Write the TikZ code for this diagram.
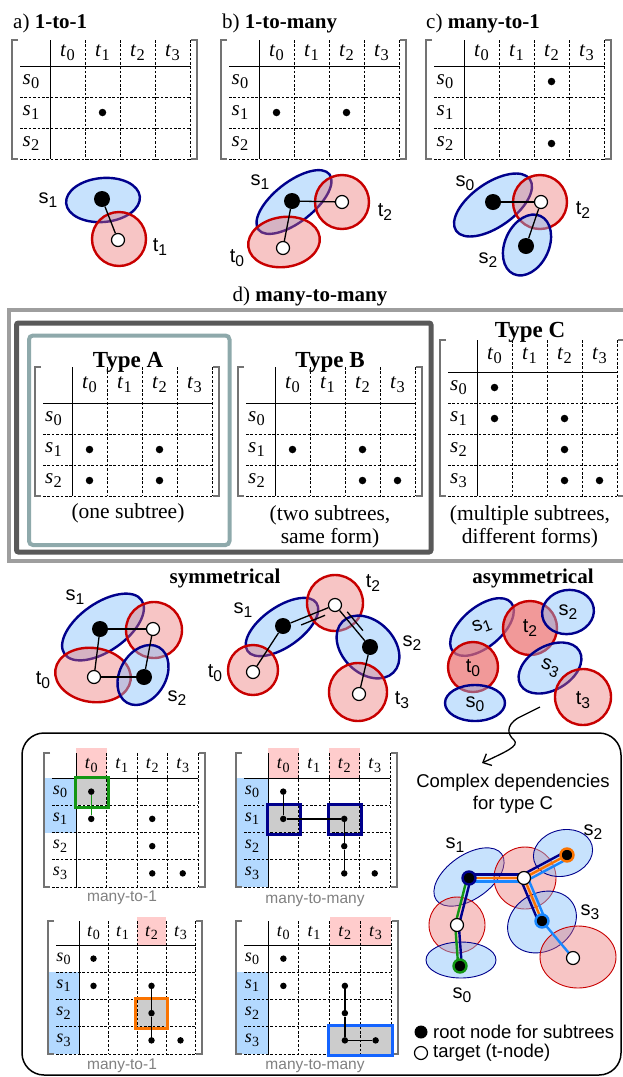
\documentclass[tikz,border=0pt]{standalone}
\usepackage{fontspec}
\setmainfont{Liberation Serif}
\setsansfont{Liberation Sans}
\usepackage{graphicx}
\usetikzlibrary{arrows.meta}
\pgfdeclarelayer{shp}
\pgfdeclarelayer{edg}
\pgfsetlayers{shp,edg,main}

\definecolor{navyc}{RGB}{0,0,140}
\definecolor{redc}{RGB}{200,0,0}
\definecolor{bfill}{RGB}{130,190,250}
\definecolor{rfill}{RGB}{235,110,110}
\definecolor{orangec}{RGB}{250,115,0}
\definecolor{lbluec}{RGB}{25,135,255}
\definecolor{greenc}{RGB}{20,150,20}
\definecolor{boxblue}{RGB}{20,100,255}
\definecolor{pinkh}{RGB}{255,204,204}
\definecolor{blueh}{RGB}{179,217,255}
\definecolor{tealc}{RGB}{142,169,171}
\definecolor{cellg}{RGB}{204,204,204}

\newcommand\subx[1]{\raisebox{-0.4ex}{\scalebox{0.78}{#1}}}
\newcommand\mvar[2]{\textit{#1}\kern0.4pt\subx{#2}}
\newcommand\gvar[2]{#1\subx{#2}}

\tikzset{
 brk/.style={draw=black!55, line width=1.3pt},
 dashl/.style={draw=black, line width=0.7pt, dash pattern=on 2.6pt off 1.8pt},
 solidl/.style={draw=black, line width=0.9pt},
 tlab/.style={inner sep=0pt, font=\fontsize{21}{21}\selectfont},
 blab/.style={inner sep=0pt, font=\fontsize{18}{18}\selectfont},
 mdot/.style={circle, fill=black, inner sep=0pt, minimum size=7.5pt},
 bdot/.style={circle, fill=black, inner sep=0pt, minimum size=6.5pt},
 sell/.style={draw=navyc, line width=2.4pt, fill=bfill, fill opacity=0.45},
 tell/.style={draw=redc, line width=2.4pt, fill=rfill, fill opacity=0.4},
 telld/.style={draw=redc, line width=2.4pt, fill=rfill, fill opacity=0.7},
 sellt/.style={draw=navyc, line width=0.9pt, fill=bfill, fill opacity=0.45},
 tellt/.style={draw=redc, line width=0.9pt, fill=rfill, fill opacity=0.4},
 rdot/.style={circle, fill=black, inner sep=0pt, minimum size=16pt},
 wdot/.style={circle, draw=black, fill=white, line width=1.2pt, inner sep=0pt, minimum size=13pt},
 conn/.style={draw=black, line width=1.3pt},
 mconn/.style={draw=black, line width=1.4pt},
 glab/.style={font=\sffamily\fontsize{20}{20}\selectfont, inner sep=0pt},
 ttl/.style={font=\fontsize{21}{21}\selectfont, inner sep=0pt},
 typ/.style={font=\bfseries\fontsize{23}{23}\selectfont, inner sep=0pt},
 capt/.style={font=\fontsize{21.5}{23.5}\selectfont, align=center, inner sep=0pt},
 gcap/.style={font=\sffamily\fontsize{15.5}{15.5}\selectfont, text=black!50, inner sep=0pt},
 cl/.style={line width=2.4pt},
 hbox/.style={line width=3pt},
}

% #1 prefix, #2 x0, #3 y0, #4 xv, #5 yh, #6 cw, #7 rh, #8 rows, #9 label style
\newcommand\mgrid[9]{%
  \pgfmathsetmacro\gxe{#4+4*#6}%
  \pgfmathsetmacro\gyb{#5+#8*#7}%
  \pgfmathsetmacro\gxr{\gxe+7}%
  \pgfmathtruncatemacro\gnm{#8-1}%
  \draw[brk] (#2+6,#3) -- (#2,#3) -- (#2,\gyb) -- (#2+6,\gyb);
  \draw[brk] (\gxr-6,#3) -- (\gxr,#3) -- (\gxr,\gyb) -- (\gxr-6,\gyb);
  \foreach \k in {1,...,4} \draw[dashl] ({#4+\k*#6},#3) -- ({#4+\k*#6},\gyb);
  \foreach \k in {1,...,#8} \draw[dashl] (#2+8,{#5+\k*#7}) -- (\gxe,{#5+\k*#7});
  \draw[solidl] (#4,#3) -- (#4,\gyb);
  \draw[solidl] (#2+8,#5) -- (\gxe,#5);
  \foreach \k in {0,...,3} \node[#9] (#1t\k) at ({#4+(\k+.5)*#6},{(#3+#5)/2}) {\mvar{t}{\k}};
  \foreach \k in {0,...,\gnm} \node[#9] (#1s\k) at ({(#2+#4)/2},{#5+(\k+.5)*#7}) {\mvar{s}{\k}};
}
\newcommand\ellp[6]{\path[#1, rotate around={#6:(#2,#3)}] (#2,#3) ellipse (#4pt and #5pt);}

\begin{document}
\begin{tikzpicture}[x=1pt,y=-1pt]
\useasboundingbox (0,0) rectangle (623,1077);

% ---------- titles ----------
\node[ttl, anchor=west] (ta) at (13,23) {a) \textbf{1-to-1}};
\node[ttl, anchor=west] (tb) at (222,23) {b) \textbf{1-to-many}};
\node[ttl, anchor=west] (tc) at (426,23) {c) \textbf{many-to-1}};

% ---------- top matrices ----------
\mgrid{A1}{12}{40}{50}{66}{35}{31}{3}{tlab}
\node[mdot] (A1d11) at (A1t1 |- A1s1) {};
\mgrid{B1}{221}{40}{259}{66}{35}{31}{3}{tlab}
\node[mdot] (B1d10) at (B1t0 |- B1s1) {};
\node[mdot] (B1d12) at (B1t2 |- B1s1) {};
\mgrid{C1}{426}{40}{464}{66}{35}{31}{3}{tlab}
\node[mdot] (C1d02) at (C1t2 |- C1s0) {};
\node[mdot] (C1d22) at (C1t2 |- C1s2) {};

% ---------- top graphs ----------
\begin{pgfonlayer}{shp}
\ellp{sell}{103}{200}{37}{22}{5}
\ellp{tell}{119}{239}{27}{27}{0}
\ellp{sell}{294}{202}{45}{20}{38}
\ellp{tell}{342}{202}{27}{27}{0}
\ellp{tell}{284}{242}{36}{25}{8}
\ellp{sell}{493}{205}{45}{22}{35}
\ellp{tell}{540}{202}{27}{27}{0}
\ellp{sell}{527}{245}{32}{22}{65}
\end{pgfonlayer}
\node[rdot] (aS1) at (102,199) {};
\node[wdot] (aT1) at (118,240) {};
\draw[conn] (aS1) -- (aT1);
\node[glab] (aLs1) at (48,200) {\gvar{s}{1}};
\node[glab] (aLt1) at (160,247) {\gvar{t}{1}};

\node[rdot] (bS1) at (292,201) {};
\node[wdot] (bT2) at (342,202) {};
\node[wdot] (bT0) at (283,248) {};
\draw[conn] (bS1) -- (bT2);
\draw[conn] (bS1) -- (bT0);
\node[glab] (bLs1) at (260,182) {\gvar{s}{1}};
\node[glab] (bLt2) at (385,212) {\gvar{t}{2}};
\node[glab] (bLt0) at (237,258) {\gvar{t}{0}};

\node[rdot] (cS0) at (493,202) {};
\node[wdot] (cT2) at (541,202) {};
\node[rdot] (cS2) at (526,246) {};
\draw[conn] (cS0) -- (cT2);
\draw[conn] (cS2) -- (cT2);
\node[glab] (cLs0) at (465,183) {\gvar{s}{0}};
\node[glab] (cLt2) at (583,210) {\gvar{t}{2}};
\node[glab] (cLs2) at (488,260) {\gvar{s}{2}};

% ---------- middle section ----------
\node[ttl] (td) at (310,296) {d) \textbf{many-to-many}};
\draw[line width=4pt, draw=black!38] (9,310) rectangle (627,561);
\draw[line width=5pt, draw=black!65, rounded corners=2pt] (16.5,323) rectangle (431,552);
\draw[line width=4pt, draw=tealc, rounded corners=4pt] (29,335.5) rectangle (229.5,545);

\node[typ, anchor=base] (tA) at (128,367) {Type A};
\node[typ, anchor=base] (tB) at (330,367) {Type B};
\node[typ, anchor=base] (tC) at (530,337) {Type C};

\mgrid{MA}{35}{367}{72}{403}{35}{31}{3}{tlab}
\node[mdot] (MAd10) at (MAt0 |- MAs1) {};
\node[mdot] (MAd12) at (MAt2 |- MAs1) {};
\node[mdot] (MAd20) at (MAt0 |- MAs2) {};
\node[mdot] (MAd22) at (MAt2 |- MAs2) {};
\mgrid{MB}{238}{367}{275}{403}{35}{31}{3}{tlab}
\node[mdot] (MBd10) at (MBt0 |- MBs1) {};
\node[mdot] (MBd12) at (MBt2 |- MBs1) {};
\node[mdot] (MBd22) at (MBt2 |- MBs2) {};
\node[mdot] (MBd23) at (MBt3 |- MBs2) {};
\mgrid{MC}{440}{340}{477}{372}{35}{31}{4}{tlab}
\node[mdot] (MCd00) at (MCt0 |- MCs0) {};
\node[mdot] (MCd10) at (MCt0 |- MCs1) {};
\node[mdot] (MCd12) at (MCt2 |- MCs1) {};
\node[mdot] (MCd22) at (MCt2 |- MCs2) {};
\node[mdot] (MCd32) at (MCt2 |- MCs3) {};
\node[mdot] (MCd33) at (MCt3 |- MCs3) {};

\node[capt] (capA) at (128,513) {(one subtree)};
\node[capt] (capB) at (330,527) {(two subtrees,\\same form)};
\node[capt] (capC) at (530,527) {(multiple subtrees,\\different forms)};

% ---------- symmetrical / asymmetrical ----------
\node[ttl] (sym) at (225,578) {\textbf{symmetrical}};
\node[ttl] (asym) at (533,578) {\textbf{asymmetrical}};

\begin{pgfonlayer}{shp}
% sym 1
\ellp{sell}{103}{627}{47}{24}{35}
\ellp{tell}{154}{630}{28}{28}{0}
\ellp{tell}{93}{675}{38}{27}{-8}
\ellp{sell}{143}{675}{32}{23}{60}
% sym 2
\ellp{sell}{282}{627}{42}{20}{35}
\ellp{tell}{253}{670}{25}{25}{0}
\ellp{tell}{335}{603}{28}{28}{0}
\ellp{sell}{368}{647}{36}{26}{-45}
\ellp{tell}{358}{692}{29}{29}{0}
% asym
\ellp{sell}{482}{627}{38}{20}{40}
\ellp{telld}{530}{628}{27}{27}{0}
\ellp{telld}{473}{667}{25}{25}{0}
\ellp{sell}{475}{703}{30}{18}{0}
\ellp{sell}{568}{612}{26}{22}{10}
\ellp{sell}{550}{668}{34}{22}{30}
\ellp{tell}{583}{697}{28}{28}{0}
\end{pgfonlayer}

\node[rdot] (pS1) at (100,629) {};
\node[wdot] (pT2) at (153,629) {};
\node[wdot] (pT0) at (94,677) {};
\node[rdot] (pS2) at (144,677) {};
\draw[conn] (pS1) -- (pT2);
\draw[conn] (pS1) -- (pT0);
\draw[conn] (pT0) -- (pS2);
\draw[conn] (pS2) -- (pT2);
\node[glab] (pLs1) at (75,597) {\gvar{s}{1}};
\node[glab] (pLt0) at (43,680) {\gvar{t}{0}};
\node[glab] (pLs2) at (177,698) {\gvar{s}{2}};

\node[rdot] (qS1) at (283,626) {};
\node[wdot] (qT0) at (253,672) {};
\node[wdot] (qT2) at (335,605) {};
\node[rdot] (qS2) at (370,647) {};
\node[wdot] (qT3) at (359,694) {};
\draw[conn] (qS1) -- (qT0);
\draw[conn] (qS1) -- (qT2);
\draw[conn, transform canvas={shift={(2.2,5.4)}}, shorten <=9pt, shorten >=6pt] (qS1) -- (qT2);
\draw[conn] (qT2) -- (qS2);
\draw[conn, transform canvas={shift={(3.9,-3.2)}}, shorten <=6pt, shorten >=9pt] (qT2) -- (qS2);
\draw[conn] (qS2) -- (qT3);
\node[glab] (qLs1) at (243,610) {\gvar{s}{1}};
\node[glab] (qLt0) at (215,673) {\gvar{t}{0}};
\node[glab] (qLt2) at (373,583) {\gvar{t}{2}};
\node[glab] (qLs2) at (412,643) {\gvar{s}{2}};
\node[glab] (qLt3) at (402,700) {\gvar{t}{3}};

\node[glab, rotate=20] (rLs1) at (482,626) {\gvar{s}{1}};
\node[glab] (rLt2) at (530,628) {\gvar{t}{2}};
\node[glab] (rLs2) at (568,612) {\gvar{s}{2}};
\node[glab] (rLt0) at (473,668) {\gvar{t}{0}};
\node[glab] (rLs0) at (475,704) {\gvar{s}{0}};
\node[glab, rotate=-20] (rLs3) at (550,668) {\gvar{s}{3}};
\node[glab] (rLt3) at (583,700) {\gvar{t}{3}};

% ---------- curly arrow ----------
\coordinate (arS) at (540,707);
\coordinate (arE) at (482,763);
\draw[line width=1.3pt, -{Straight Barb[length=7pt,width=13pt]}] (arS) -- (518,718) .. controls (505,726) and (508,735) .. (514,740) .. controls (520,746) and (505,752) .. (arE);

% ---------- bottom panel ----------
\draw[line width=1.5pt, rounded corners=22pt] (22,733) rectangle (621,1075);

% BL1
\fill[pinkh] (76,748) rectangle (106.5,778);
\fill[blueh] (44,778) rectangle (76,832.5);
\fill[cellg] (76,778) rectangle (106.5,805.25);
\mgrid{La}{44}{753}{76}{778}{30.5}{27.25}{4}{blab}
\draw[hbox, draw=greenc] (75,777) rectangle (108,807);
\node[bdot] (Lad00) at (Lat0 |- Las0) {};
\node[bdot] (Lad10) at (Lat0 |- Las1) {};
\node[bdot] (Lad12) at (Lat2 |- Las1) {};
\node[bdot] (Lad22) at (Lat2 |- Las2) {};
\node[bdot] (Lad32) at (Lat2 |- Las3) {};
\node[bdot] (Lad33) at (Lat3 |- Las3) {};
\draw[mconn, draw=greenc] (Lad00) -- (Lad10);
\node[gcap] (gLa) at (122,898) {many-to-1};

% BR1
\fill[pinkh] (268,748) rectangle (298.5,778);
\fill[pinkh] (329,748) rectangle (359.5,778);
\fill[blueh] (236,778) rectangle (268,887);
\fill[cellg] (268,805.25) rectangle (298.5,832.5);
\fill[cellg] (329,805.25) rectangle (359.5,832.5);
\mgrid{Ra}{236}{753}{268}{778}{30.5}{27.25}{4}{blab}
\draw[hbox, draw=navyc] (267,804) rectangle (300,834);
\draw[hbox, draw=navyc] (328,804) rectangle (361,834);
\node[bdot] (Rad00) at (Rat0 |- Ras0) {};
\node[bdot] (Rad10) at (Rat0 |- Ras1) {};
\node[bdot] (Rad12) at (Rat2 |- Ras1) {};
\node[bdot] (Rad22) at (Rat2 |- Ras2) {};
\node[bdot] (Rad32) at (Rat2 |- Ras3) {};
\node[bdot] (Rad33) at (Rat3 |- Ras3) {};
\draw[mconn] (Rad00) -- (Rad10);
\draw[mconn] (Rad10) -- (Rad12);
\draw[mconn] (Rad12) -- (Rad22);
\draw[mconn] (Rad22) -- (Rad32);
\node[gcap] (gRa) at (315,900) {many-to-many};

% BL2
\fill[pinkh] (137,917) rectangle (166,945);
\fill[blueh] (48,972.25) rectangle (79,1054);
\fill[cellg] (137,999.5) rectangle (166,1026.75);
\mgrid{Lb}{48}{921}{79}{945}{29}{27.25}{4}{blab}
\draw[hbox, draw=orangec] (135.5,998) rectangle (167.5,1028.25);
\node[bdot] (Lbd00) at (Lbt0 |- Lbs0) {};
\node[bdot] (Lbd10) at (Lbt0 |- Lbs1) {};
\node[bdot] (Lbd12) at (Lbt2 |- Lbs1) {};
\node[bdot] (Lbd22) at (Lbt2 |- Lbs2) {};
\node[bdot] (Lbd32) at (Lbt2 |- Lbs3) {};
\node[bdot] (Lbd33) at (Lbt3 |- Lbs3) {};
\draw[mconn] (Lbd12) -- (Lbd22);
\draw[mconn] (Lbd22) -- (Lbd32);
\node[gcap] (gLb) at (122,1066) {many-to-1};

% BR2
\fill[pinkh] (329.5,917) rectangle (391,945);
\fill[blueh] (236,972.25) rectangle (268,1054);
\fill[cellg] (329.5,1026.75) rectangle (391,1054);
\mgrid{Rb}{236}{921}{268}{945}{30.75}{27.25}{4}{blab}
\draw[hbox, draw=boxblue] (328,1025.25) rectangle (392.5,1055.5);
\node[bdot] (Rbd00) at (Rbt0 |- Rbs0) {};
\node[bdot] (Rbd10) at (Rbt0 |- Rbs1) {};
\node[bdot] (Rbd12) at (Rbt2 |- Rbs1) {};
\node[bdot] (Rbd22) at (Rbt2 |- Rbs2) {};
\node[bdot] (Rbd32) at (Rbt2 |- Rbs3) {};
\node[bdot] (Rbd33) at (Rbt3 |- Rbs3) {};
\draw[mconn] (Rbd12) -- (Rbd22);
\draw[mconn] (Rbd22) -- (Rbd32);
\draw[mconn] (Rbd32) -- (Rbd33);
\node[gcap] (gRb) at (315,1066) {many-to-many};

% ---------- complex dependencies ----------
\node[font=\sffamily\fontsize{18.5}{22}\selectfont, align=center, inner sep=0pt] (cdt) at (513,794) {Complex dependencies\\for type C};

\begin{pgfonlayer}{shp}
\ellp{sellt}{469}{877}{40}{22}{35}
\ellp{tellt}{525}{878}{31}{31}{0}
\ellp{tellt}{457}{925}{28}{28}{0}
\ellp{sellt}{461}{960}{35}{18}{0}
\ellp{sellt}{563}{853}{30}{23}{15}
\ellp{sellt}{542}{922}{36}{29}{30}
\ellp{tellt}{578}{957}{38}{31}{0}
\end{pgfonlayer}

\node[rdot, draw=navyc, line width=2.4pt, minimum size=13pt] (kS1) at (469,878) {};
\node[wdot, minimum size=13pt] (kT2) at (524,878) {};
\node[rdot, draw=orangec, line width=2.4pt, minimum size=13pt] (kS2) at (567,855) {};
\node[rdot, draw=lbluec, line width=2.4pt, minimum size=13pt] (kS3) at (542,921) {};
\node[wdot, minimum size=13pt] (kT0) at (457,925) {};
\node[rdot, draw=greenc, line width=2.4pt, minimum size=13pt] (kS0) at (460,966) {};
\node[wdot, minimum size=13pt] (kT3) at (573,958) {};

\begin{pgfonlayer}{edg}
\draw[cl, navyc, transform canvas={shift={(0,-3.6)}}] (kS1.center) -- (kT2.center);
\draw[cl, orangec] (kS1.center) -- (kT2.center);
\draw[cl, lbluec, transform canvas={shift={(0,3.6)}}] (kS1.center) -- (kT2.center);
\draw[cl, navyc, transform canvas={shift={(-1.7,-3.2)}}] (kT2.center) -- (kS2.center);
\draw[cl, orangec] (kT2.center) -- (kS2.center);
\draw[cl, lbluec, transform canvas={shift={(1.7,3.2)}}] (kT2.center) -- (kS2.center);
\draw[cl, navyc, transform canvas={shift={(-3.3,1.4)}}] (kT2.center) -- (kS3.center);
\draw[cl, orangec] (kT2.center) -- (kS3.center);
\draw[cl, lbluec, transform canvas={shift={(3.3,-1.4)}}] (kT2.center) -- (kS3.center);
\draw[cl, greenc, transform canvas={shift={(-1.8,-0.45)}}] (kS1.center) -- (kT0.center);
\draw[cl, navyc, transform canvas={shift={(1.8,0.45)}}] (kS1.center) -- (kT0.center);
\draw[cl, greenc, transform canvas={shift={(-1.8,0)}}] (kT0.center) -- (kS0.center);
\draw[cl, navyc, transform canvas={shift={(1.8,0)}}] (kT0.center) -- (kS0.center);
\draw[cl, lbluec] (kS3.center) -- (kT3.center);
\end{pgfonlayer}

\node[glab] (kLs1) at (455,845) {\gvar{s}{1}};
\node[glab] (kLs2) at (593,832) {\gvar{s}{2}};
\node[glab] (kLs3) at (590,912) {\gvar{s}{3}};
\node[glab] (kLs0) at (462,995) {\gvar{s}{0}};

% legend
\node[rdot, minimum size=13pt] (lg1) at (421,1032) {};
\node[wdot] (lg2) at (421,1053) {};
\node[glab, anchor=west, font=\sffamily\fontsize{18.5}{18.5}\selectfont] (lgt1) at (433,1032) {root node for subtrees};
\node[glab, anchor=west, font=\sffamily\fontsize{18.5}{18.5}\selectfont] (lgt2) at (433,1053) {target (t-node)};
\end{tikzpicture}
\end{document}
